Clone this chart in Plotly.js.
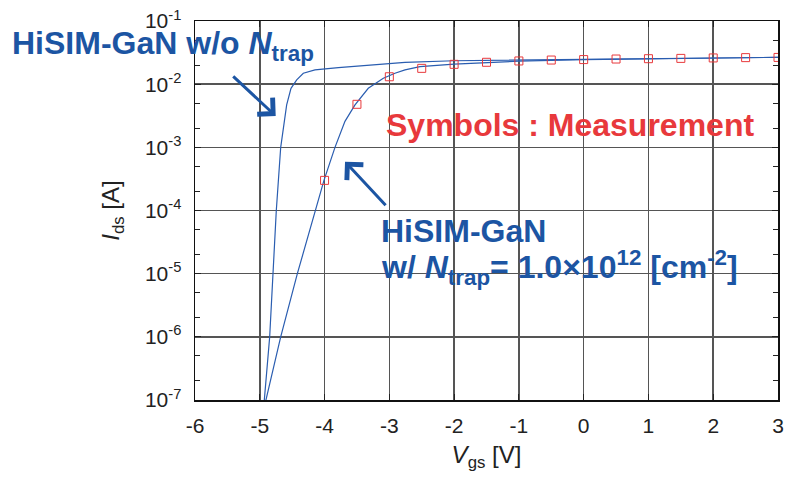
<!DOCTYPE html>
<html>
<head>
<meta charset="utf-8">
<script src="https://cdn.plot.ly/plotly-3.0.1.min.js"></script>
<style>html,body{margin:0;padding:0;background:#fff;}#chart{width:788px;height:484px;}</style>
</head>
<body>
<div id="chart"></div>
<script>
// Measurement (symbols)
const vgsMeas = [-4, -3.5, -3, -2.5, -2, -1.5, -1, -0.5, 0, 0.5, 1, 1.5, 2, 2.5, 3];
const idsMeas = [3.0e-4, 4.8e-3, 1.31e-2, 1.78e-2, 2.06e-2, 2.22e-2, 2.33e-2, 2.41e-2, 2.45e-2, 2.5e-2, 2.53e-2, 2.56e-2, 2.6e-2, 2.63e-2, 2.65e-2];

// HiSIM-GaN w/o Ntrap
const vgsNoTrap = [-4.95, -4.93, -4.847, -4.791, -4.745, -4.677, -4.585, -4.518, -4.43, -4.328, -4.148, -3.787, -3.272, -2.758, -2, -1, 0, 1, 2, 3];
const idsNoTrap = [7e-8, 1e-7, 1e-6, 1e-5, 1e-4, 1e-3, 4.7e-3, 8.6e-3, 1.17e-2, 1.49e-2, 1.68e-2, 1.83e-2, 2.02e-2, 2.22e-2, 2.35e-2, 2.41e-2, 2.48e-2, 2.54e-2, 2.6e-2, 2.66e-2];

// HiSIM-GaN w/ Ntrap = 1.0e12 cm^-2
const vgsTrap = [-4.94, -4.905, -4.677, -4.42, -4.147, -4.009, -3.839, -3.685, -3.53, -3.325, -3.093, -2.913, -2.758, -2.527, -2, -1.5, -1, 0, 1, 2, 3];
const idsTrap = [7e-8, 1e-7, 1e-6, 1e-5, 1e-4, 3e-4, 1e-3, 2.58e-3, 4.7e-3, 8.6e-3, 1.24e-2, 1.49e-2, 1.68e-2, 1.89e-2, 2.08e-2, 2.2e-2, 2.31e-2, 2.45e-2, 2.53e-2, 2.6e-2, 2.66e-2];

// Axis ticks
const xTicks = [-6, -5, -4, -3, -2, -1, 0, 1, 2, 3];
const yTickVals = [1e-7, 1e-6, 1e-5, 1e-4, 1e-3, 1e-2, 1e-1];
const yTickText = ['10<sup>-7</sup>', '10<sup>-6</sup>', '10<sup>-5</sup>', '10<sup>-4</sup>', '10<sup>-3</sup>', '10<sup>-2</sup>', '10<sup>-1</sup>'];
const yMinorVals = [];
yTickVals.slice(0, -1).forEach(v => { yMinorVals.push(2 * v, 5 * v); });

const BLUE = '#1c55a3';
const LINE = '#2a5db0';
const RED = '#e8393c';
const FONT = '"Liberation Sans", Arial, Helvetica, sans-serif';

const data = [
  { x: vgsNoTrap, y: idsNoTrap, mode: 'lines', type: 'scatter', line: { color: LINE, width: 1.2 }, hoverinfo: 'skip' },
  { x: vgsTrap, y: idsTrap, mode: 'lines', type: 'scatter', line: { color: LINE, width: 1.2 }, hoverinfo: 'skip' },
  { x: vgsMeas, y: idsMeas, mode: 'markers', type: 'scatter',
    marker: { symbol: 'square-open', size: 8, color: RED, line: { width: 1, color: RED } }, hoverinfo: 'skip' }
];

const layout = {
  width: 788, height: 484,
  margin: { l: 195, r: 10, t: 21, b: 84 },
  paper_bgcolor: '#fff', plot_bgcolor: '#fff',
  showlegend: false,
  font: { family: FONT, color: '#222', size: 21 },
  xaxis: {
    range: [-6, 3], tickmode: 'array', tickvals: xTicks, ticktext: xTicks.map(String),
    ticks: 'inside', ticklen: 6, tickcolor: '#222', tickwidth: 1.2,
    showline: true, linecolor: '#111', linewidth: 1.5, mirror: 'ticks',
    showgrid: true, gridcolor: '#555', gridwidth: 1.5, zeroline: false,
    tickfont: { size: 21, color: '#222' }, ticklabelstandoff: 6,
    title: { text: '<i>V</i><sub>gs</sub> [V]', font: { size: 24, color: '#222' }, standoff: 10 },
    automargin: false
  },
  yaxis: {
    type: 'log', range: [-7, -1], tickmode: 'array', tickvals: yTickVals, ticktext: yTickText,
    ticks: 'inside', ticklen: 6, tickcolor: '#222', tickwidth: 1.2,
    showline: true, linecolor: '#111', linewidth: 1.5, mirror: 'ticks',
    showgrid: true, gridcolor: '#555', gridwidth: 1.5, zeroline: false,
    minor: { tickmode: 'array', tickvals: yMinorVals, ticks: 'inside', ticklen: 5, tickcolor: '#222', tickwidth: 1, showgrid: false },
    tickfont: { size: 21, color: '#222' }, ticklabelstandoff: 8,
    title: { text: '<i>I</i><sub>ds</sub> [A]', font: { size: 24, color: '#222' }, standoff: 18 },
    automargin: false
  },
  annotations: [
    { xref: 'paper', yref: 'paper', x: -0.318, y: 0.935, xanchor: 'left', yanchor: 'middle', showarrow: false,
      text: '<b>HiSIM-GaN w/o <i>N</i><sub>trap</sub></b>', font: { size: 32, color: BLUE, family: FONT } },
    { xref: 'paper', yref: 'paper', x: 0.325, y: 0.726, xanchor: 'left', yanchor: 'middle', showarrow: false,
      text: '<b>Symbols : Measurement</b>', font: { size: 32, color: RED, family: FONT } },
    { xref: 'paper', yref: 'paper', x: 0.315, y: 0.447, xanchor: 'left', yanchor: 'middle', showarrow: false,
      text: '<b>HiSIM-GaN</b>', font: { size: 32, color: BLUE, family: FONT } },
    { xref: 'paper', yref: 'paper', x: 0.315, y: 0.35, xanchor: 'left', yanchor: 'middle', showarrow: false,
      text: '<b>w/ <i>N</i><sub>trap</sub>= 1.0×10<sup>12</sup> [cm<sup>-2</sup>]</b>', font: { size: 32, color: BLUE, family: FONT } },
    { x: -4.754, y: -2.504, xref: 'x', yref: 'y', ax: -44, ay: -41, axref: 'pixel', ayref: 'pixel', text: '', showarrow: true,
      arrowhead: 4, arrowsize: 1.45, arrowwidth: 3, arrowcolor: BLUE, standoff: 0 },
    { x: -3.684, y: -3.227, xref: 'x', yref: 'y', ax: 42, ay: 45, axref: 'pixel', ayref: 'pixel', text: '', showarrow: true,
      arrowhead: 4, arrowsize: 1.45, arrowwidth: 3, arrowcolor: BLUE, standoff: 0 }
  ]
};

Plotly.newPlot('chart', data, layout, { staticPlot: true, displayModeBar: false });
</script>
</body>
</html>
